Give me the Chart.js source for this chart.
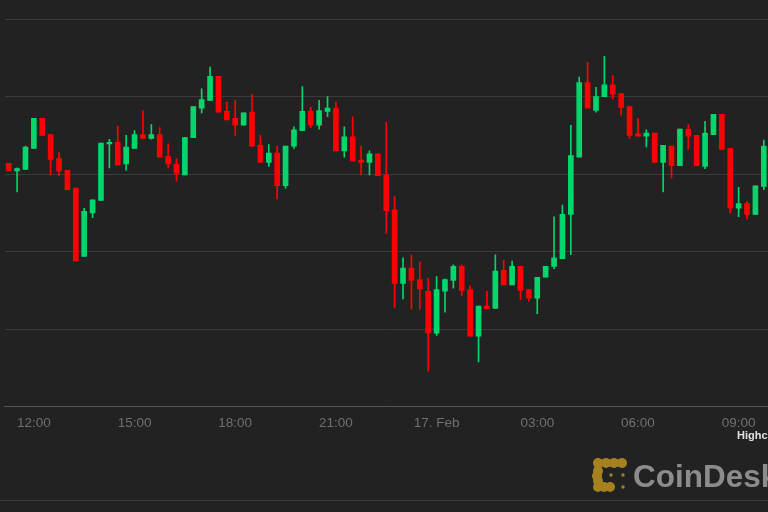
<!DOCTYPE html>
<html>
<head>
<meta charset="utf-8">
<script src="https://cdn.jsdelivr.net/npm/chart.js@4/dist/chart.umd.min.js"></script>
<style>
  html, body { margin: 0; padding: 0; background: #222222; }
  #wrap { position: relative; width: 768px; height: 512px; overflow: hidden; background: #222222; }
  #chart { position: absolute; left: 0; top: 0; }
  .credit { position: absolute; left: 737px; top: 430px; font: bold 11px "Liberation Sans", Arial, sans-serif; line-height: 11px; color: #e0e0e0; white-space: nowrap; }
  .brand { position: absolute; left: 633px; top: 460px; font: bold 31.5px "Liberation Sans", Arial, sans-serif; line-height: 32px; color: #8c8c8c; white-space: nowrap; }
  .logo { position: absolute; left: 590px; top: 455px; }
  .rule { position: absolute; left: 0; top: 500px; width: 768px; height: 1px; background: #3c3c3c; }
</style>
</head>
<body>
<div id="wrap">
  <canvas id="chart" width="768" height="512"></canvas>
  <div class="credit">Highcharts.com</div>
  <svg class="logo" width="40" height="40" viewBox="0 0 40 40">
    <g fill="#a5821f">
      <rect x="8" y="4.5" width="24" height="7"/>
      <rect x="4.5" y="8" width="7" height="24"/>
      <rect x="8" y="28.5" width="12" height="7"/>
      <circle cx="8" cy="8" r="5"/><circle cx="16" cy="8" r="5"/><circle cx="24" cy="8" r="5"/><circle cx="32" cy="8" r="5"/>
      <circle cx="8" cy="16" r="5"/><circle cx="7" cy="21" r="5"/><circle cx="8" cy="26" r="5"/>
      <circle cx="8" cy="32" r="5"/><circle cx="14" cy="32" r="5"/><circle cx="20" cy="32" r="5"/>
      <circle cx="21" cy="20" r="1.7"/><circle cx="33" cy="20" r="1.7"/><circle cx="33" cy="32" r="1.7"/>
    </g>
  </svg>
  <div class="brand">CoinDesk</div>
  <div class="rule"></div>
</div>
<script>
// 15 minute candles, 16 Feb 11:15 -> 17 Feb 09:45
const times = [
  "11:15", "11:30", "11:45",
  "12:00", "12:15", "12:30", "12:45", "13:00", "13:15", "13:30", "13:45",
  "14:00", "14:15", "14:30", "14:45", "15:00", "15:15", "15:30", "15:45",
  "16:00", "16:15", "16:30", "16:45", "17:00", "17:15", "17:30", "17:45",
  "18:00", "18:15", "18:30", "18:45", "19:00", "19:15", "19:30", "19:45",
  "20:00", "20:15", "20:30", "20:45", "21:00", "21:15", "21:30", "21:45",
  "22:00", "22:15", "22:30", "22:45", "23:00", "23:15", "23:30", "23:45",
  "00:00", "00:15", "00:30", "00:45", "01:00", "01:15", "01:30", "01:45",
  "02:00", "02:15", "02:30", "02:45", "03:00", "03:15", "03:30", "03:45",
  "04:00", "04:15", "04:30", "04:45", "05:00", "05:15", "05:30", "05:45",
  "06:00", "06:15", "06:30", "06:45", "07:00", "07:15", "07:30", "07:45",
  "08:00", "08:15", "08:30", "08:45", "09:00", "09:15", "09:30", "09:45"
];

// which categories get a label on the time axis
const tickLabels = {
  "12:00": "12:00", "15:00": "15:00", "18:00": "18:00", "21:00": "21:00",
  "00:00": "17. Feb", "03:00": "03:00", "06:00": "06:00", "09:00": "09:00"
};

const open = [
  9814, 9804, 9806, 9833, 9872, 9851, 9820, 9805, 9782, 9694,
  9750, 9766, 9839, 9841, 9813, 9833, 9851, 9846, 9851, 9823,
  9813, 9799, 9847, 9885, 9895, 9926, 9881, 9872, 9863, 9880,
  9837, 9815, 9827, 9785, 9836, 9856, 9881, 9863, 9881, 9885,
  9830, 9848, 9818, 9815, 9826, 9799, 9754, 9659, 9679, 9664,
  9649, 9595, 9649, 9663, 9681, 9651, 9591, 9630, 9627, 9676,
  9657, 9681, 9651, 9640, 9667, 9681, 9691, 9748, 9822, 9918,
  9882, 9900, 9915, 9904, 9887, 9852, 9849, 9853, 9815, 9836,
  9811, 9858, 9850, 9810, 9851, 9877, 9833, 9756, 9762, 9748,
  9784
];
const high = [
  9814, 9808, 9836, 9872, 9872, 9851, 9828, 9805, 9782, 9756,
  9767, 9840, 9845, 9862, 9850, 9856, 9882, 9864, 9860, 9839,
  9820, 9847, 9887, 9910, 9938, 9926, 9893, 9895, 9879, 9903,
  9850, 9838, 9836, 9836, 9861, 9913, 9886, 9895, 9900, 9893,
  9861, 9874, 9836, 9830, 9826, 9867, 9771, 9692, 9696, 9687,
  9666, 9668, 9665, 9683, 9683, 9656, 9630, 9649, 9696, 9689,
  9688, 9681, 9651, 9667, 9681, 9745, 9760, 9863, 9925, 9944,
  9912, 9952, 9927, 9904, 9887, 9872, 9857, 9853, 9837, 9836,
  9858, 9864, 9850, 9868, 9877, 9877, 9833, 9783, 9765, 9785,
  9844
];
const low = [
  9804, 9777, 9806, 9833, 9850, 9799, 9798, 9780, 9688, 9694,
  9744, 9766, 9808, 9812, 9805, 9833, 9846, 9845, 9822, 9808,
  9791, 9799, 9847, 9879, 9895, 9880, 9870, 9850, 9863, 9836,
  9815, 9810, 9768, 9782, 9833, 9856, 9860, 9858, 9874, 9830,
  9822, 9817, 9799, 9799, 9798, 9724, 9628, 9639, 9626, 9626,
  9546, 9592, 9622, 9653, 9643, 9591, 9558, 9627, 9627, 9657,
  9657, 9638, 9636, 9620, 9667, 9678, 9691, 9696, 9822, 9885,
  9880, 9900, 9897, 9876, 9846, 9849, 9835, 9815, 9777, 9795,
  9811, 9832, 9811, 9807, 9851, 9832, 9750, 9745, 9742, 9748,
  9780
];
const close = [
  9804, 9807, 9835, 9872, 9850, 9819, 9804, 9780, 9688, 9752,
  9767, 9840, 9841, 9812, 9835, 9851, 9846, 9851, 9822, 9813,
  9801, 9847, 9887, 9896, 9926, 9880, 9870, 9863, 9879, 9836,
  9815, 9827, 9785, 9836, 9857, 9881, 9863, 9882, 9885, 9830,
  9848, 9817, 9815, 9826, 9798, 9753, 9659, 9679, 9663, 9652,
  9595, 9651, 9664, 9681, 9650, 9591, 9630, 9627, 9675, 9657,
  9681, 9650, 9640, 9667, 9681, 9692, 9748, 9824, 9918, 9885,
  9900, 9915, 9903, 9886, 9850, 9849, 9853, 9815, 9837, 9811,
  9858, 9849, 9811, 9853, 9877, 9832, 9756, 9762, 9748, 9785,
  9836
];

const upColor = "#00d66b";
const downColor = "#ff0000";
const candleColors = open.map((o, i) => (close[i] >= o ? upColor : downColor));

const ctx = document.getElementById("chart").getContext("2d");
new Chart(ctx, {
  type: "bar",
  data: {
    labels: times,
    datasets: [
      {
        label: "body",
        data: open.map((o, i) => [o, close[i]]),
        backgroundColor: candleColors,
        barThickness: 5,
        grouped: false,
        order: 0,
      },
      {
        label: "wick",
        data: low.map((l, i) => [l, high[i]]),
        backgroundColor: candleColors,
        barThickness: 1,
        grouped: false,
        order: 1,
      },
    ],
  },
  options: {
    responsive: false,
    animation: false,
    layout: { padding: { left: 4.5, right: 0, top: 19, bottom: 73 } },
    plugins: { legend: { display: false }, tooltip: { enabled: false } },
    scales: {
      x: {
        grid: { display: false, drawTicks: false },
        border: { color: "#555555", width: 1 },
        ticks: {
          autoSkip: false,
          maxRotation: 0,
          padding: 8,
          color: "#707070",
          font: { family: "Liberation Sans", size: 13.5 },
          callback: (value, index) => tickLabels[times[index]] || "",
        },
        // the plot runs right up to the edges, no extra label padding
        afterFit: (scale) => {
          scale.paddingLeft = 0;
          scale.paddingRight = 0;
        },
      },
      y: {
        min: 9500,
        max: 10000,
        border: { display: false },
        grid: {
          drawTicks: false,
          color: (c) => (c.tick && c.tick.value === 9500 ? "rgba(0,0,0,0)" : "#3a3a3a"),
        },
        ticks: { display: false, stepSize: 100 },
      },
    },
  },
});
</script>
</body>
</html>
